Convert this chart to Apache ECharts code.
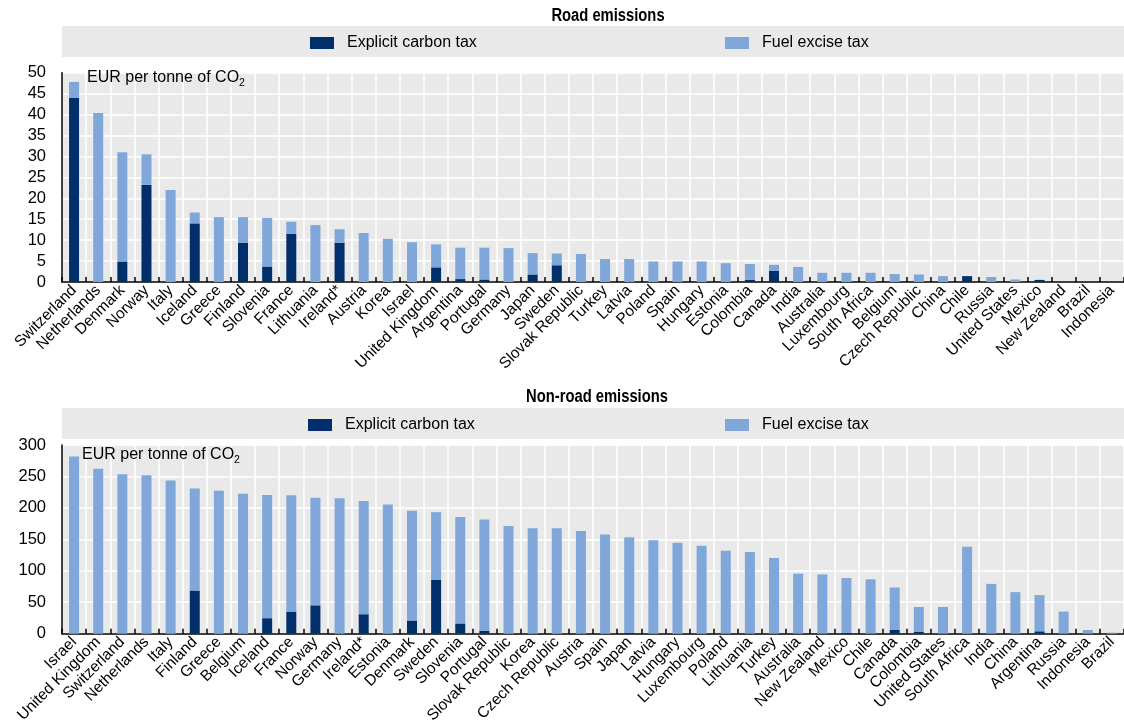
<!DOCTYPE html>
<html>
<head>
<meta charset="utf-8">
<script src="https://cdn.jsdelivr.net/npm/echarts@6/dist/echarts.min.js"></script>
<style>
html,body{margin:0;padding:0;background:#fff;}
#chart{width:1124px;height:726px;}
</style>
</head>
<body>
<div id="chart"></div>
<script>
// ---- Road emissions ----
var roadCountries = ["Switzerland","Netherlands","Denmark","Norway","Italy","Iceland","Greece","Finland","Slovenia","France","Lithuania","Ireland*","Austria","Korea","Israel","United Kingdom","Argentina","Portugal","Germany","Japan","Sweden","Slovak Republic","Turkey","Latvia","Poland","Spain","Hungary","Estonia","Colombia","Canada","India","Australia","Luxembourg","South Africa","Belgium","Czech Republic","China","Chile","Russia","United States","Mexico","New Zealand","Brazil","Indonesia"];
var roadCarbon = [44.0,0,4.9,23.2,0,14.0,0,9.4,3.7,11.5,0,9.4,0,0,0,3.5,0.7,0.6,0,1.8,4.0,0,0,0,0,0,0,0,0.5,2.7,0,0,0,0,0,0,0,1.4,0,0,0.5,0,0,0];
var roadExcise = [3.8,40.4,26.1,7.3,22.0,2.6,15.5,6.1,11.6,2.9,13.6,3.2,11.7,10.3,9.5,5.5,7.5,7.6,8.1,5.1,2.8,6.7,5.5,5.5,4.9,4.9,4.9,4.5,3.8,1.4,3.6,2.2,2.2,2.2,1.9,1.8,1.4,0,1.2,0.6,0,0,0,0];
var roadTicks = [0,5,10,15,20,25,30,35,40,45,50];

// ---- Non-road emissions ----
var nonRoadCountries = ["Israel","United Kingdom","Switzerland","Netherlands","Italy","Finland","Greece","Belgium","Iceland","France","Norway","Germany","Ireland*","Estonia","Denmark","Sweden","Slovenia","Portugal","Slovak Republic","Korea","Czech Republic","Austria","Spain","Japan","Latvia","Hungary","Luxembourg","Poland","Lithuania","Turkey","Australia","New Zealand","Mexico","Chile","Canada","Colombia","United States","South Africa","India","China","Argentina","Russia","Indonesia","Brazil"];
var nonRoadCarbon = [0,0,0,0,0,68.6,0,0,24.6,35.1,45.0,0,30.9,0,20.9,85.3,16.2,4.7,0,0,0,0,0,1.0,0,0,0,0,0,0,0,0,1.0,0,5.8,3.1,0,0,0,0,3.7,0,0,0];
var nonRoadExcise = [281.6,262.3,253.4,251.8,243.4,162.3,227.2,222.5,195.8,184.8,171.2,215.2,180.1,205.2,174.4,107.9,169.1,177.0,171.2,167.5,167.5,163.3,157.6,152.4,148.7,144.5,139.8,131.9,129.8,120.4,95.3,94.2,87.5,86.4,67.5,39.3,42.4,138.2,79.1,66.0,57.6,35.1,5.8,1.5];
var nonRoadTicks = [0,50,100,150,200,250,300];

var seriesNames = ["Explicit carbon tax","Fuel excise tax"];
var titles = ["Road emissions","Non-road emissions"];

var DARK = "#002F6C", LIGHT = "#7FA7D9", BG = "#E9E9E9";
var FONT = "Liberation Sans, Arial, sans-serif";

var grids = [
  {left: 62, top: 72.7, width: 1069, height: 209.3},
  {left: 62, top: 445, width: 1069, height: 191}
];

function xAxis(idx, cats) {
  return {
    type: 'category', gridIndex: idx, data: cats,
    axisLine: {show: true, lineStyle: {color: '#000', width: 1.5}},
    axisTick: {show: true, inside: true, length: 5, interval: 0, lineStyle: {color: '#000', width: 1.5}},
    axisLabel: {interval: 0, rotate: 45, fontSize: 15.5, color: '#000', fontFamily: FONT, margin: 6},
    splitLine: {show: true, interval: 0, lineStyle: {color: '#fff', width: 1.5}},
    splitArea: {show: false}
  };
}
function yAxis(idx, ticks) {
  return {
    type: 'value', gridIndex: idx, min: ticks[0], max: ticks[ticks.length - 1],
    interval: ticks[1] - ticks[0],
    axisLine: {show: true, lineStyle: {color: '#000', width: 1.5}},
    axisTick: {show: false},
    axisLabel: {fontSize: 16.5, color: '#000', fontFamily: FONT, margin: 16},
    splitLine: {show: true, lineStyle: {color: '#fff', width: 1.5}}
  };
}
function bars(idx, carbon, excise) {
  return [
    {name: seriesNames[0], type: 'bar', xAxisIndex: idx, yAxisIndex: idx, stack: 's' + idx,
     data: carbon, barWidth: 10, itemStyle: {color: DARK}, silent: true, animation: false},
    {name: seriesNames[1], type: 'bar', xAxisIndex: idx, yAxisIndex: idx, stack: 's' + idx,
     data: excise, barWidth: 10, itemStyle: {color: LIGHT}, silent: true, animation: false}
  ];
}
function legend(name, left, top) {
  return {
    data: [name], left: left, top: top, icon: 'rect', itemWidth: 24, itemHeight: 12, itemGap: 0,
    textStyle: {fontSize: 16, color: '#000', fontFamily: FONT, padding: [0, 0, 0, 8]},
    selectedMode: false, padding: 0
  };
}
function panelGraphics(titleText, cx, yTitle, yBar, xNote, yNote) {
  return [
    {type: 'rect', left: 62, top: yBar, shape: {width: 1062, height: 31}, style: {fill: BG}, z: 0},
    {type: 'text', x: cx, y: yTitle, scaleX: 0.82, z: 10,
     style: {text: titleText, font: 'bold 18px ' + FONT, fill: '#000', textAlign: 'center', textVerticalAlign: 'middle'}},
    {type: 'text', left: xNote, top: yNote, z: 10,
     style: {rich: {a: {fontSize: 16, fontFamily: FONT, fill: '#000'}, s: {fontSize: 10.5, fontFamily: FONT, fill: '#000', padding: [10, 0, 0, 0]}},
             text: '{a|EUR per tonne of CO}{s|2}'}}
  ];
}

var chart = echarts.init(document.getElementById('chart'), null, {renderer: 'canvas'});
var g1 = panelGraphics(titles[0], 608, 16, 26, 87, 70);
var g2 = panelGraphics(titles[1], 597, 397, 408, 82, 447);

chart.setOption({
  animation: false,
  backgroundColor: '#fff',
  grid: grids.map(function (g) { return Object.assign({backgroundColor: BG, show: true, borderWidth: 0}, g); }),
  xAxis: [xAxis(0, roadCountries), xAxis(1, nonRoadCountries)],
  yAxis: [yAxis(0, roadTicks), yAxis(1, nonRoadTicks)],
  legend: [
    legend(seriesNames[0], 310, 35), legend(seriesNames[1], 725, 35),
    legend(seriesNames[0], 308, 417), legend(seriesNames[1], 725, 417)
  ],
  graphic: g1.concat(g2),
  series: bars(0, roadCarbon, roadExcise).concat(bars(1, nonRoadCarbon, nonRoadExcise))
});
</script>
</body>
</html>
